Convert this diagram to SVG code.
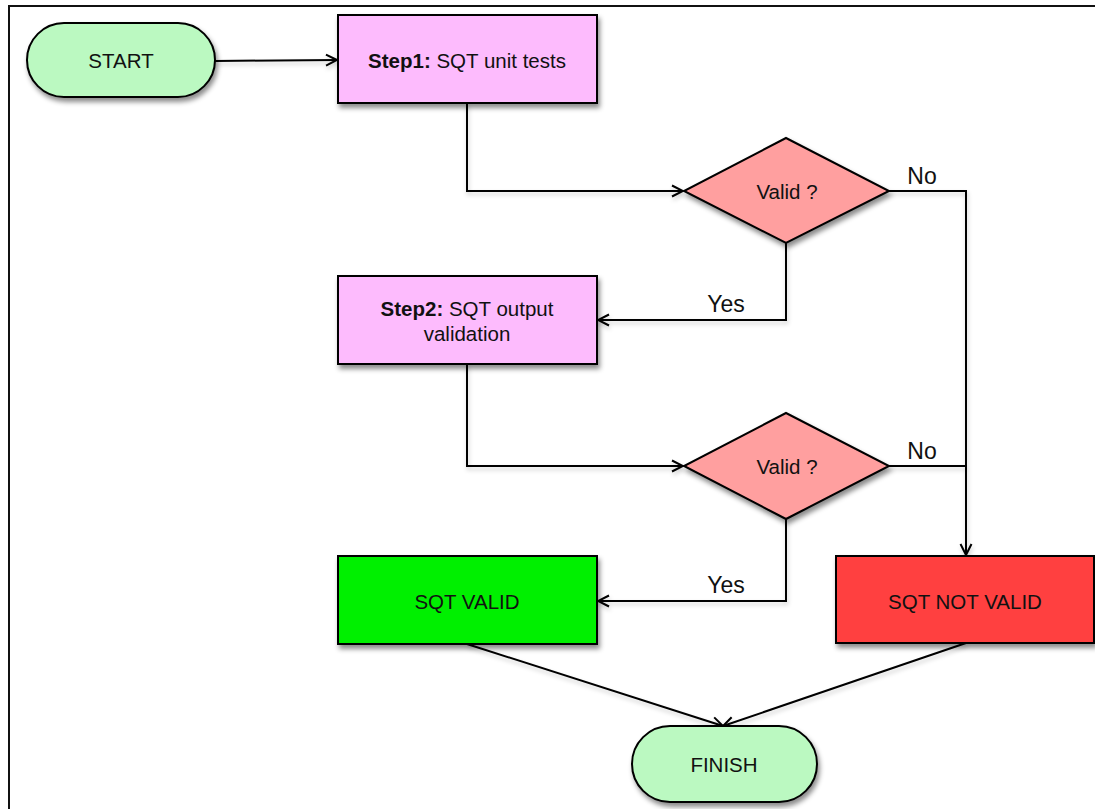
<svg xmlns="http://www.w3.org/2000/svg" width="1095" height="809" viewBox="0 0 1095 809">
  <style>
    .frame { fill: none; stroke: #111; stroke-width: 2; }
    .node { stroke: #000; stroke-width: 2; filter: url(#shadow); }
    .term { fill: #bbf9c1; }
    .step { fill: #fdbbfd; }
    .dec { fill: #ff9f9f; }
    .ok { fill: #00f000; }
    .bad { fill: #ff4141; }
    .lbl { font-family: "Liberation Sans", Arial, sans-serif; font-size: 20.5px; fill: #111; text-anchor: middle; }
    .edge-lbl { font-family: "Liberation Sans", Arial, sans-serif; font-size: 23px; fill: #111; text-anchor: middle; }
    .edge { fill: none; stroke: #000; stroke-width: 2; marker-end: url(#arrow); }
    .plain { fill: none; stroke: #000; stroke-width: 2; }
  </style>
  <defs>
    <filter id="shadow" filterUnits="userSpaceOnUse" x="0" y="0" width="1095" height="809">
      <feDropShadow dx="2" dy="4" stdDeviation="2.5" flood-color="#000" flood-opacity="0.45"/>
    </filter>
    <filter id="lineshadow" filterUnits="userSpaceOnUse" x="0" y="0" width="1095" height="809">
      <feDropShadow dx="1" dy="3" stdDeviation="2" flood-color="#000" flood-opacity="0.2"/>
    </filter>
    <marker id="arrow" markerWidth="14" markerHeight="14" refX="12" refY="7" orient="auto" markerUnits="userSpaceOnUse">
      <polyline points="1,1.5 12,7 1,12.5" fill="none" stroke="#000" stroke-width="2"/>
    </marker>
  </defs>

  <rect width="1095" height="809" fill="#fff"/>
  <path class="frame" d="M9,809 V6 H1095"/>

  <!-- connectors, sharing one soft shadow -->
  <g id="connectors" filter="url(#lineshadow)">
    <line class="edge" x1="215" y1="61" x2="337" y2="60"/>
    <polyline class="edge" points="467,103 467,191 683,191"/>
    <polyline class="plain" points="889,191 966,191 966,466"/>
    <polyline class="edge" points="786,243 786,320 598,320"/>
    <polyline class="edge" points="467,364 467,466 683,466"/>
    <polyline class="plain" points="889,466 966,466"/>
    <line class="edge" x1="966" y1="466" x2="966" y2="555"/>
    <polyline class="edge" points="786,519 786,601 598,601"/>
    <line class="edge" x1="467" y1="644" x2="723" y2="726"/>
    <line class="edge" x1="966" y1="643" x2="723" y2="726"/>
  </g>
  <g id="connector-labels">
    <text class="edge-lbl" x="922" y="184">No</text>
    <text class="edge-lbl" x="726" y="312">Yes</text>
    <text class="edge-lbl" x="922" y="459">No</text>
    <text class="edge-lbl" x="726" y="593">Yes</text>
  </g>

  <g id="start">
    <rect class="node term" x="27" y="23" width="188" height="74" rx="37" ry="37"/>
    <text class="lbl" x="121" y="68">START</text>
  </g>

  <g id="step1">
    <rect class="node step" x="338" y="15" width="259" height="88"/>
    <text class="lbl" x="467" y="68"><tspan font-weight="bold">Step1:</tspan> SQT unit tests</text>
  </g>

  <g id="valid1">
    <polygon class="node dec" points="786,138 889,191 786,243 684,191"/>
    <text class="lbl" x="787" y="199">Valid ?</text>
  </g>

  <g id="step2">
    <rect class="node step" x="338" y="276" width="259" height="88"/>
    <text class="lbl" x="467" y="316"><tspan font-weight="bold">Step2:</tspan> SQT output</text>
    <text class="lbl" x="467" y="341">validation</text>
  </g>

  <g id="valid2">
    <polygon class="node dec" points="786,413 889,466 786,519 684,466"/>
    <text class="lbl" x="787" y="474">Valid ?</text>
  </g>

  <g id="sqt-valid">
    <rect class="node ok" x="338" y="556" width="259" height="88"/>
    <text class="lbl" x="467" y="609">SQT VALID</text>
  </g>

  <g id="sqt-not-valid">
    <rect class="node bad" x="836" y="556" width="258" height="87"/>
    <text class="lbl" x="965" y="609">SQT NOT VALID</text>
  </g>

  <g id="finish">
    <rect class="node term" x="632" y="726" width="185" height="76" rx="38" ry="38"/>
    <text class="lbl" x="724" y="772">FINISH</text>
  </g>
</svg>
